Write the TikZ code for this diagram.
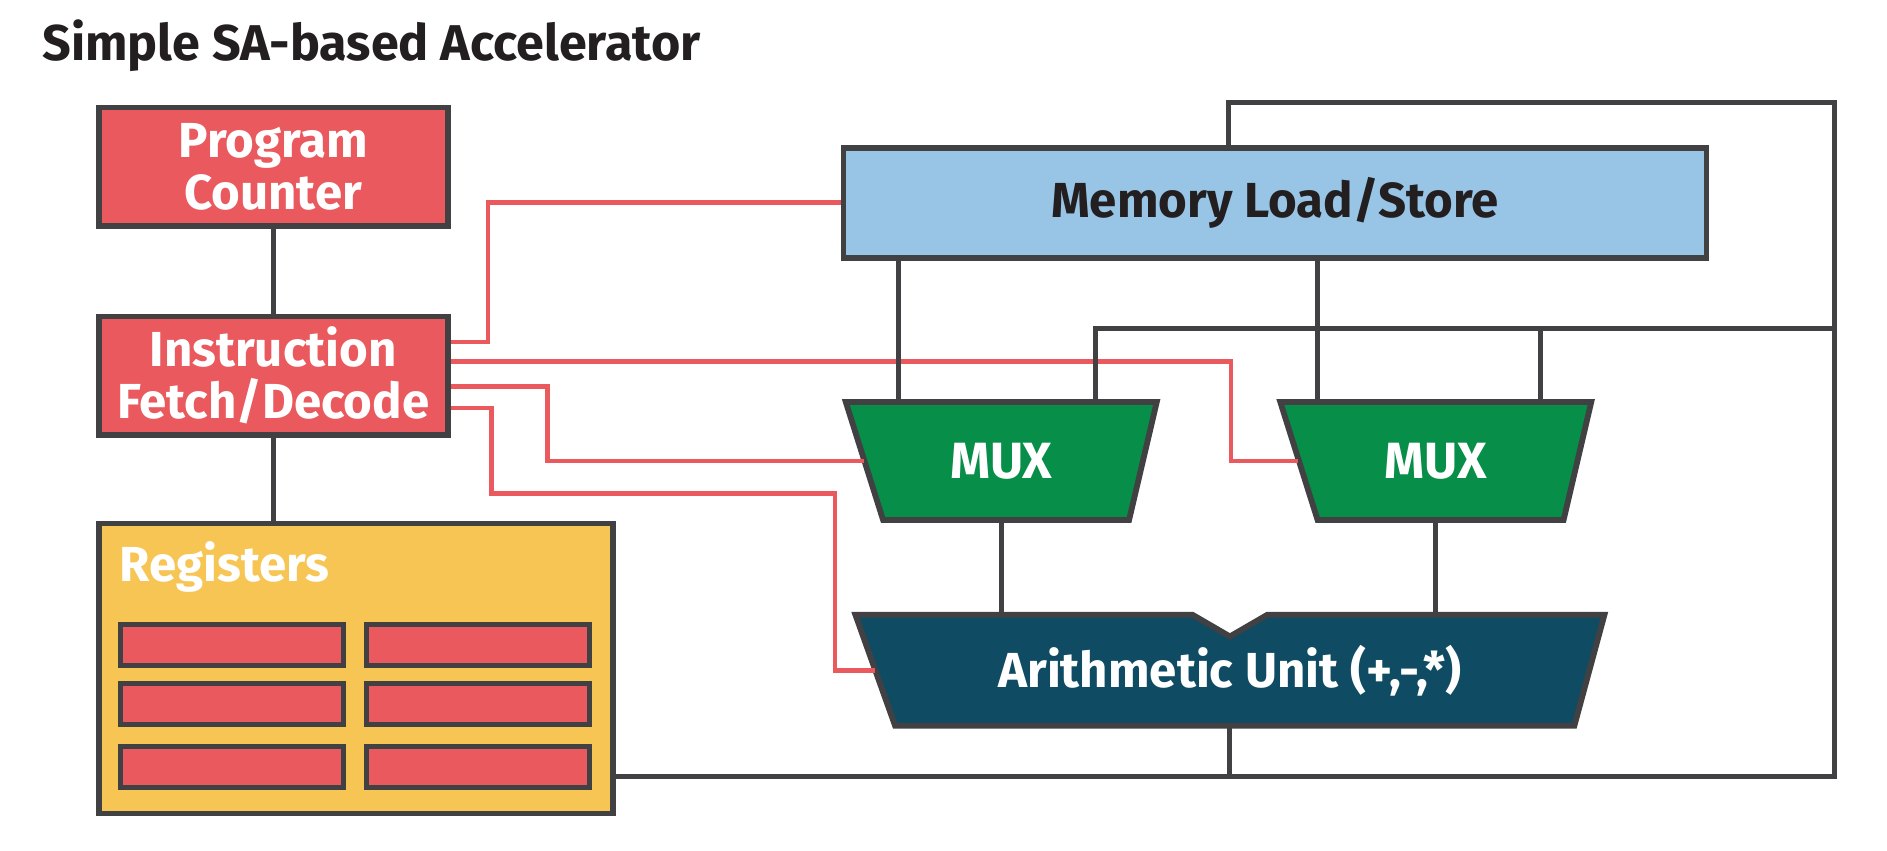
\documentclass[tikz,border=0pt]{standalone}
\usepackage{fontspec}
\setmainfont{Fira Sans}
\usetikzlibrary{shapes.geometric,positioning,backgrounds}

\definecolor{boxred}{HTML}{E9595E}
\definecolor{regyellow}{HTML}{F7C553}
\definecolor{memblue}{HTML}{98C5E5}
\definecolor{muxgreen}{HTML}{078E48}
\definecolor{auteal}{HTML}{0F4C63}
\definecolor{edge}{HTML}{414042}
\definecolor{ink}{HTML}{231F20}

\tikzset{
  label font/.style={font=\bfseries\fontsize{14}{14.8}\selectfont},
  unit/.style={draw=edge,line width=0.58mm,text=white,align=center,inner sep=0pt,label font},
  redbox/.style={unit,fill=boxred,minimum width=34.9mm,minimum height=11.85mm},
  cell/.style={draw=edge,line width=0.5mm,fill=boxred,minimum width=22.3mm,minimum height=4.1mm},
  slot/.style={text=white,align=center,inner sep=0pt,outer sep=0pt,label font},
  mux/.style={slot,font=\bfseries\fontsize{14.5}{15}\selectfont,minimum width=31.1mm,minimum height=11.8mm},
  shapeline/.style={draw=edge,line width=0.58mm},
  wire/.style={draw=edge,line width=0.5mm},
  ctrl/.style={draw=boxred,line width=0.46mm}
}

\begin{document}
\begin{tikzpicture}[x=0.12035mm,y=-0.12035mm]
  \useasboundingbox (0,0) rectangle (1568,707.1);

  \node[anchor=base west,text=ink,font=\bfseries\fontsize{14.3}{16}\selectfont] (title) at (25,50)
    {Simple SA-based Accelerator};

  % control side
  \node[redbox] (pc) at (227,138.5) {Program\\Counter};
  \node[redbox,below of=pc,node distance=20.9mm] (ifd) {Instruction\\Fetch/Decode};
  \node[unit,fill=regyellow,minimum width=51.4mm,minimum height=29mm] (regs) at (295.5,555.5) {};
  \node[anchor=base west,text=white,label font] (regslabel) at (89,483) {Registers};
  \foreach \row/\y in {1/536,2/585,3/637.5}
    \foreach \col/\x in {1/192.5,2/397.5}
      \node[cell] (cell\row\col) at (\x,\y) {};

  % datapath
  \node[unit,fill=memblue,text=ink,minimum width=86.3mm,minimum height=11mm] (mem) at (1059.5,168.5) {Memory Load/Store};
  \node[mux] (mux1) at (832,383) {MUX};
  \node[mux,right of=mux1,node distance=43.45mm] (mux2) {MUX};
  \node[slot,minimum width=74.9mm,minimum height=11.1mm] (au) at (1022,557) {\raisebox{-1pt}{Arithmetic Unit (+,-,*)}};
  \begin{scope}[on background layer]
    \foreach \m in {mux1,mux2}
      \filldraw[shapeline,fill=muxgreen] (\m.north west) -- (\m.north east)
        -- ([shift={(-23,0)}]\m.south east) -- ([shift={(31,0)}]\m.south west) -- cycle;
    \filldraw[shapeline,fill=auteal] (au.north west) -- ([shift={(-31,0)}]au.north)
      -- ([shift={(0,18)}]au.north) -- ([shift={(31,0)}]au.north) -- (au.north east)
      -- ([shift={(-25,0)}]au.south east) -- ([shift={(33,0)}]au.south west) -- cycle;
  \end{scope}

  \coordinate (fb) at (1524,85);
  \coordinate (bus) at (1524,273);
  \coordinate (ret) at (1524,645);

  % control lines from the decoder
  \draw[ctrl] ([shift={(0,-28)}]ifd.east) -| ([shift={(-293,0)}]mem.west) -- (mem.west);
  \draw[ctrl] ([shift={(0,-12)}]ifd.east) -| ([shift={(-41,0)}]mux2.west) -- ([shift={(15,0)}]mux2.west);
  \draw[ctrl] ([shift={(0,9)}]ifd.east) -| ([shift={(-248,0)}]mux1.west) -- ([shift={(15.5,0)}]mux1.west);
  \draw[ctrl] ([shift={(0,27)}]ifd.east) -| ++(34,71) -| ([shift={(-17,0)}]au.west) -- ([shift={(16.5,0)}]au.west);

  % data wires
  \draw[wire] (pc) -- (ifd);
  \draw[wire] (ifd.south) -- (ifd.south |- regs.north);
  \draw[wire] ([shift={(-85,0)}]mux1.north) -- ([shift={(-85,0)}]mux1.north |- mem.south);
  \draw[wire] ([shift={(-98,0)}]mux2.north) -- ([shift={(-98,0)}]mux2.north |- mem.south);
  \draw[wire] ([shift={(78,0)}]mux1.north) |- (bus);
  \draw[wire] ([shift={(87,0)}]mux2.north) -- ([shift={(87,0)}]mux2.north |- bus);
  \draw[wire] (mux1.south) -- (mux1.south |- au.north);
  \draw[wire] (mux2.south) -- (mux2.south |- au.north);
  \draw[wire] (au.south) -- (au.south |- ret);
  \draw[wire] ([shift={(-38.5,0)}]mem.north) |- (fb) -- (ret) -- (regs.east |- ret);
\end{tikzpicture}
\end{document}
